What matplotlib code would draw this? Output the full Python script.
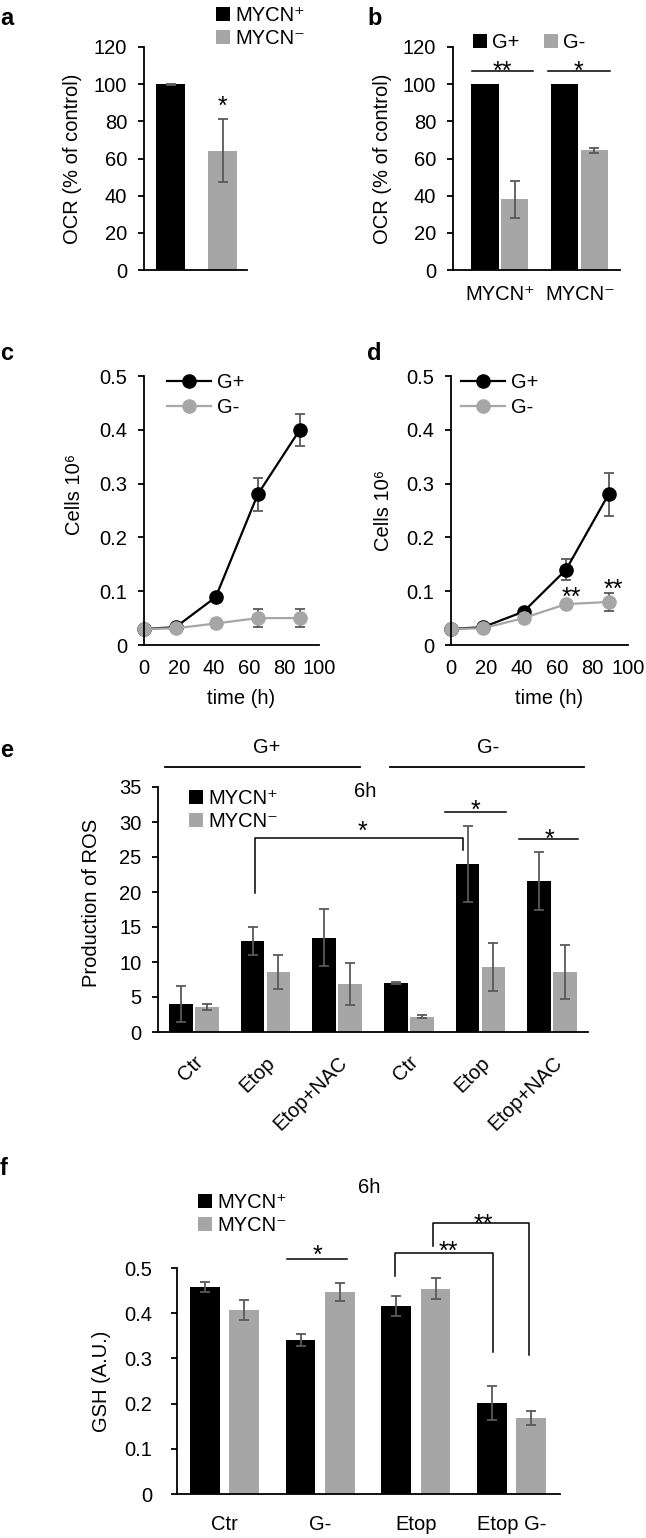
import numpy as np
import matplotlib
matplotlib.use("Agg")
import matplotlib.pyplot as plt

plt.rcParams['font.family'] = ['Liberation Sans', 'DejaVu Sans']

# ---- data ----
mycn_labels = ['MYCN⁺', 'MYCN⁻']

# a: OCR
a_vals = [100, 64.3]
a_err = [0.3, 17]

# b: OCR by glucose
b_gplus = [100, 100]
b_gminus = [38, 64.5]
b_gminus_err = [10, 1.3]

# c, d: growth curves
time_h = [0, 18, 41, 65, 89]
c_gplus = [0.03, 0.033, 0.089, 0.28, 0.40]
c_gplus_err = [0, 0.002, 0.004, 0.03, 0.03]
c_gminus = [0.03, 0.031, 0.04, 0.05, 0.05]
c_gminus_err = [0, 0.002, 0.008, 0.016, 0.016]
d_gplus = [0.03, 0.033, 0.062, 0.14, 0.28]
d_gplus_err = [0, 0.003, 0.005, 0.02, 0.04]
d_gminus = [0.03, 0.031, 0.05, 0.076, 0.08]
d_gminus_err = [0, 0.003, 0.006, 0.005, 0.016]
cells_ticks = [0, 0.1, 0.2, 0.3, 0.4, 0.5]
cells_ticklabels = ['0', '0.1', '0.2', '0.3', '0.4', '0.5']

# e: ROS
e_cats = ['Ctr', 'Etop', 'Etop+NAC', 'Ctr', 'Etop', 'Etop+NAC']
e_plus = [4.0, 13.0, 13.5, 6.95, 24.0, 21.6]
e_plus_err = [2.6, 2.0, 4.1, 0.15, 5.4, 4.1]
e_minus = [3.6, 8.6, 6.9, 2.2, 9.3, 8.6]
e_minus_err = [0.4, 2.4, 3.0, 0.25, 3.4, 3.9]

# f: GSH
f_cats = ['Ctr', 'G-', 'Etop', 'Etop G-']
f_plus = [0.458, 0.341, 0.415, 0.202]
f_plus_err = [0.012, 0.014, 0.022, 0.038]
f_minus = [0.408, 0.446, 0.454, 0.168]
f_minus_err = [0.022, 0.02, 0.023, 0.015]
gsh_ticks = [0, 0.1, 0.2, 0.3, 0.4, 0.5]
gsh_ticklabels = ['0', '0.1', '0.2', '0.3', '0.4', '0.5']

# ---- style ----
W, H = 646, 1538
BLACK = '#000000'
GRAY = '#a6a6a6'
ERR = '#595959'
FS = 14.5
LW = 1.3
err_kw = dict(ecolor=ERR, elinewidth=1.3, capsize=3.5, capthick=1.3)

fig = plt.figure(figsize=(W / 100, H / 100), dpi=100)


def make_ax(x0, x1, ytop, ybot):
    ax = fig.add_axes([x0 / W, 1 - ybot / H, (x1 - x0) / W, (ybot - ytop) / H])
    ax.spines['top'].set_visible(False)
    ax.spines['right'].set_visible(False)
    ax.spines['left'].set_linewidth(LW)
    ax.spines['bottom'].set_linewidth(LW)
    ax.tick_params(axis='y', direction='out', length=4, width=LW, labelsize=FS, pad=8)
    ax.tick_params(axis='x', length=0, labelsize=FS)
    return ax


def legend_at(ax, handles, labels, x, y, **kw):
    opts = dict(loc='upper left', bbox_to_anchor=(x / W, 1 - y / H),
                bbox_transform=fig.transFigure, frameon=False, fontsize=FS,
                borderpad=0, borderaxespad=0, handlelength=0.7, handleheight=0.7,
                handletextpad=0.25, labelspacing=0.2)
    opts.update(kw)
    return ax.legend(handles, labels, **opts)


def star(ax, x, y, s):
    ax.text(x, y, s, ha='center', va='baseline', fontsize=18, clip_on=False)


# ---- a ----
ax = make_ax(144, 247, 47, 270)
ba = ax.bar(0, a_vals[0], 0.56, yerr=a_err[0], color=BLACK, error_kw=err_kw)
bb = ax.bar(1, a_vals[1], 0.56, yerr=a_err[1], color=GRAY, error_kw=err_kw)
ax.set_xlim(-0.51, 1.47)
ax.set_ylim(0, 120)
ax.set_yticks([0, 20, 40, 60, 80, 100, 120])
ax.set_xticks([])
ax.set_ylabel('OCR (% of control)', fontsize=FS)
ax.yaxis.set_label_coords(-0.60, 0.5)
star(ax, 1, 84, '*')
legend_at(ax, [ba, bb], mycn_labels, 216, 6)

# ---- b ----
ax = make_ax(453, 620, 47, 270)
xb = np.arange(2)
bg1 = ax.bar(xb - 0.19, b_gplus, 0.34, color=BLACK)
bg2 = ax.bar(xb + 0.18, b_gminus, 0.34, yerr=b_gminus_err, color=GRAY, error_kw=err_kw)
ax.set_xlim(-0.59, 1.5)
ax.set_ylim(0, 120)
ax.set_yticks([0, 20, 40, 60, 80, 100, 120])
ax.set_xticks(xb)
ax.set_xticklabels(mycn_labels)
ax.tick_params(axis='x', pad=11)
ax.set_ylabel('OCR (% of control)', fontsize=FS)
ax.yaxis.set_label_coords(-0.365, 0.5)
ax.plot([-0.35, 0.41], [107, 107], color='black', lw=1.1, clip_on=False)
ax.plot([0.6, 1.375], [107, 107], color='black', lw=1.1, clip_on=False)
star(ax, 0.03, 102.8, '**')
star(ax, 0.98, 102.8, '*')
legend_at(ax, [bg1, bg2], ['G+', 'G-'], 473, 33, ncol=2, columnspacing=1.2)


# ---- c, d ----
def growth(x0, x1, gp, gpe, gm, gme, leg_x, label_xy):
    ax = make_ax(x0, x1, 376, 645)
    l1 = ax.errorbar(time_h, gp, yerr=gpe, color=BLACK, marker='o', ms=9.5, lw=1.6,
                     ecolor=ERR, elinewidth=1.3, capsize=3.5, capthick=1.3, clip_on=False)
    l2 = ax.errorbar(time_h, gm, yerr=gme, color=GRAY, marker='o', ms=9.5, lw=1.6,
                     ecolor=ERR, elinewidth=1.3, capsize=3.5, capthick=1.3, clip_on=False)
    ax.set_xlim(0, 100)
    ax.set_ylim(0, 0.5)
    ax.set_xticks([0, 20, 40, 60, 80, 100])
    ax.set_yticks(cells_ticks)
    ax.set_yticklabels(cells_ticklabels)
    ax.tick_params(axis='x', pad=10)
    ax.set_xlabel('time (h)', fontsize=FS)
    ax.xaxis.set_label_coords(0.554, -0.165)
    ax.set_ylabel('Cells 10⁶', fontsize=FS)
    ax.yaxis.set_label_coords(*label_xy)
    legend_at(ax, [l1.lines[0], l2.lines[0]], ['G+', 'G-'], leg_x, 373, handlelength=2.2,
              handletextpad=0.3, labelspacing=0.3)
    return ax


growth(144, 319, c_gplus, c_gplus_err, c_gminus, c_gminus_err, 167, (-0.343, 0.56))
ax = growth(451, 628, d_gplus, d_gplus_err, d_gminus, d_gminus_err, 461, (-0.33, 0.5))
star(ax, time_h[3] + 3, 0.0744, '**')
star(ax, time_h[4] + 3, 0.089, '**')

# ---- e ----
ax = make_ax(158, 588, 787, 1032)
xe = np.arange(len(e_cats))
be1 = ax.bar(xe - 0.18, e_plus, 0.33, yerr=e_plus_err, color=BLACK, error_kw=err_kw)
be2 = ax.bar(xe + 0.18, e_minus, 0.33, yerr=e_minus_err, color=GRAY, error_kw=err_kw)
ax.set_xlim(-0.5, 5.5)
ax.set_ylim(0, 35)
ax.set_yticks([0, 5, 10, 15, 20, 25, 30, 35])
ax.set_xticks(xe)
ax.set_xticklabels(e_cats, rotation=45, ha='right', va='top', rotation_mode='anchor')
ax.tick_params(axis='x', pad=15)
ax.set_ylabel('Production of ROS', fontsize=FS)
ax.yaxis.set_label_coords(-0.133, 0.527)
ax.text(2.39, 34.3, '6h', ha='center', va='center', fontsize=FS)
ax.plot([-0.40, 2.32], [37.9, 37.9], color='black', lw=1.3, clip_on=False)
ax.plot([2.74, 5.44], [37.9, 37.9], color='black', lw=1.3, clip_on=False)
ax.text(1.01, 40.6, 'G+', ha='center', va='center', fontsize=FS)
ax.text(4.11, 40.6, 'G-', ha='center', va='center', fontsize=FS)
ax.plot([0.86, 0.86, 3.76, 3.76], [19.9, 27.7, 27.7, 26.0], color='black', lw=1.1)
star(ax, 2.36, 27.6, '*')
ax.plot([3.5, 4.35], [31.4, 31.4], color='black', lw=1.1)
star(ax, 3.93, 30.6, '*')
ax.plot([4.54, 5.36], [27.6, 27.6], color='black', lw=1.1)
star(ax, 4.96, 26.4, '*')
legend_at(ax, [be1, be2], mycn_labels, 189, 789)

# ---- f ----
ax = make_ax(177, 560, 1268, 1494)
xf = np.arange(len(f_cats))
bf1 = ax.bar(xf - 0.21, f_plus, 0.31, yerr=f_plus_err, color=BLACK, error_kw=err_kw)
bf2 = ax.bar(xf + 0.2, f_minus, 0.31, yerr=f_minus_err, color=GRAY, error_kw=err_kw)
ax.set_xlim(-0.5, 3.5)
ax.set_ylim(0, 0.5)
ax.set_yticks(gsh_ticks)
ax.set_yticklabels(gsh_ticklabels)
ax.tick_params(axis='y', pad=14)
ax.set_xticks(xf)
ax.set_xticklabels(f_cats)
ax.tick_params(axis='x', pad=15)
ax.set_ylabel('GSH (A.U.)', fontsize=FS)
ax.yaxis.set_label_coords(-0.172, 0.5)
ax.text(1.51, 0.679, '6h', ha='center', va='center', fontsize=FS, clip_on=False)
ax.plot([0.65, 1.28], [0.521, 0.521], color='black', lw=1.1, clip_on=False)
star(ax, 0.97, 0.511, '*')
ax.plot([1.78, 1.78, 2.80, 2.80], [0.482, 0.533, 0.533, 0.314], color='black', lw=1.1, clip_on=False)
star(ax, 2.33, 0.520, '**')
ax.plot([2.17, 2.17, 3.18, 3.18], [0.549, 0.60, 0.60, 0.307], color='black', lw=1.1, clip_on=False)
star(ax, 2.70, 0.580, '**')
legend_at(ax, [bf1, bf2], mycn_labels, 198, 1193)

# ---- panel letters ----
for letter, x, y in [('a', 0, 25), ('b', 367, 25), ('c', 0, 360), ('d', 367, 360),
                     ('e', 0, 757), ('f', 0, 1175)]:
    fig.text(x / W, 1 - y / H, letter, fontsize=17, fontweight='bold', ha='left', va='baseline')

fig.savefig('out.png', dpi=100)
